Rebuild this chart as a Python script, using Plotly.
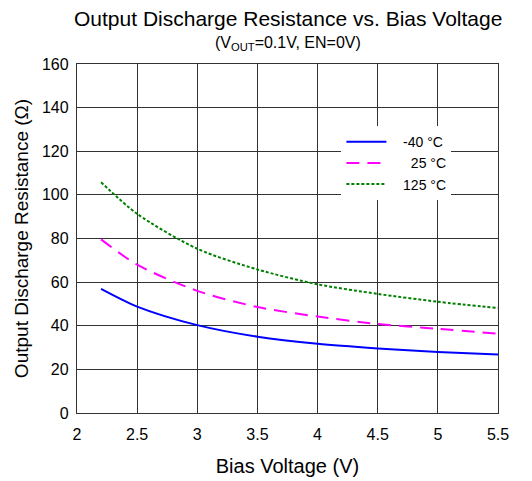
import plotly.graph_objects as go

bias_v = [2.2, 2.5, 3.0, 3.5, 4.0, 4.5, 5.0, 5.5]
r_m40 = [56.9, 48.8, 40.3, 35.0, 31.7, 29.6, 28.0, 26.8]
r_25 = [79.6, 68.0, 56.0, 48.6, 44.2, 40.8, 38.6, 36.3]
r_125 = [105.8, 91.3, 75.3, 65.8, 59.0, 54.6, 51.0, 48.1]

series_names = ["\u00a0\u00a0\u00a0-40 °C", "\u00a0\u00a0\u00a0\u200725 °C", "\u00a0\u00a0\u00a0125 °C"]
colors = ["#0000FF", "#FF00FF", "#008000"]
dashes = ["solid", "13px,8px", "3px,2px"]

x_ticks = [2, 2.5, 3, 3.5, 4, 4.5, 5, 5.5]
x_tick_text = ["2", "2.5", "3", "3.5", "4", "4.5", "5", "5.5"]
y_ticks = [0, 20, 40, 60, 80, 100, 120, 140, 160]

FONT = "Liberation Sans, Arial, sans-serif"

fig = go.Figure()
for name, ys, c, d in zip(series_names, [r_m40, r_25, r_125], colors, dashes):
    fig.add_trace(go.Scatter(
        x=bias_v, y=ys, mode="lines", name=name,
        line=dict(color=c, width=2, dash=d, shape="spline", smoothing=0.8),
    ))

fig.update_layout(
    width=532, height=481,
    margin=dict(l=69, r=42, t=56, b=76, autoexpand=False),
    paper_bgcolor="white", plot_bgcolor="white",
    font=dict(family=FONT, color="black", size=15),
    showlegend=True,
    legend=dict(
        x=0.628, y=0.822, xanchor="left", yanchor="top",
        bgcolor="white", borderwidth=0,
        font=dict(size=14, family=FONT),
        itemwidth=40, tracegroupgap=0,
    ),
    xaxis=dict(
        range=[2, 5.5], tickvals=x_ticks, ticktext=x_tick_text,
        showgrid=True, gridcolor="#333333", gridwidth=1.3,
        showline=True, linecolor="#333333", linewidth=1.3, mirror=True,
        zeroline=False, ticks="", ticklen=0, automargin=False,
        ticklabelstandoff=7,
        title=dict(text="Bias Voltage (V)", font=dict(size=20), standoff=16),
        tickfont=dict(size=16),
    ),
    yaxis=dict(
        range=[0, 160], tickvals=y_ticks,
        showgrid=True, gridcolor="#333333", gridwidth=1.3,
        showline=True, linecolor="#333333", linewidth=1.3, mirror=True,
        zeroline=False, ticks="", ticklen=0, automargin=False,
        ticklabelstandoff=4,
        title=dict(text="Output Discharge Resistance (Ω)", font=dict(size=19), standoff=8),
        tickfont=dict(size=16),
    ),
    annotations=[
        dict(text="Output Discharge Resistance vs. Bias Voltage",
             x=0.5, y=1, xref="paper", yref="paper", yanchor="middle",
             yshift=46, showarrow=False, font=dict(size=21)),
        dict(text="(V<sub>OUT</sub>=0.1V, EN=0V)",
             x=0.5, y=1, xref="paper", yref="paper", yanchor="middle",
             yshift=21, showarrow=False, font=dict(size=16)),
    ],
)

fig.write_html("out.html")
